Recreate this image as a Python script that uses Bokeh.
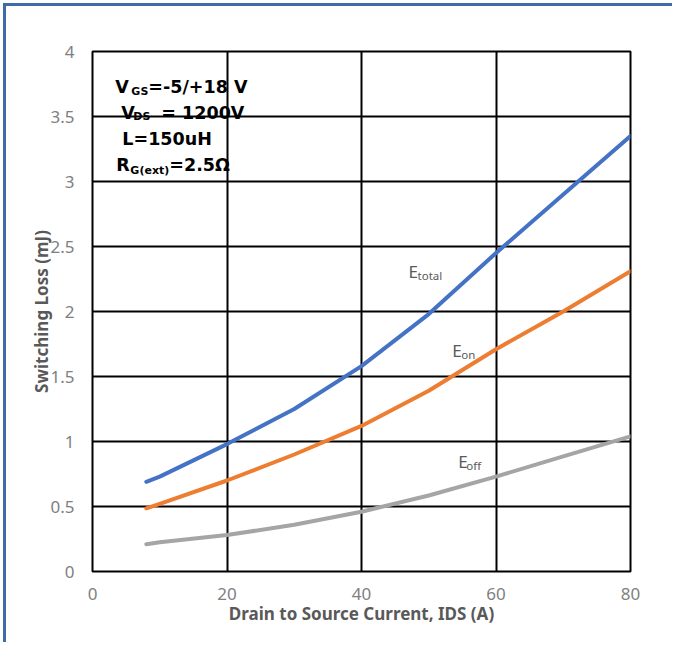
from bokeh.plotting import figure
from bokeh.models import Range1d, FixedTicker
from bokeh.core.properties import value
from bokeh.embed import file_html
from bokeh.resources import INLINE

# Data
ids = [8, 10, 20, 30, 40, 50, 60, 70, 80]
e_total = [0.69, 0.73, 0.98, 1.25, 1.58, 1.98, 2.45, 2.90, 3.35]
e_on = [0.485, 0.52, 0.70, 0.90, 1.12, 1.39, 1.71, 2.00, 2.31]
e_off = [0.21, 0.225, 0.28, 0.36, 0.46, 0.585, 0.73, 0.885, 1.04]

x_ticks = [0, 20, 40, 60, 80]
y_ticks = [0, 0.5, 1, 1.5, 2, 2.5, 3, 3.5, 4]
y_tick_labels = {0: "0", 0.5: "0.5", 1: "1", 1.5: "1.5", 2: "2", 2.5: "2.5", 3: "3", 3.5: "3.5", 4: "4"}

FONT = "Noto Sans"
BOLD_FONT = "DejaVu Sans"
TICK_COLOR = "#808080"
LABEL_COLOR = "#595959"
FRAME_BLUE = "#3D6CA8"

p = figure(
    frame_width=538, frame_height=520,
    min_border_left=86, min_border_right=45, min_border_top=45, min_border_bottom=74,
    x_range=Range1d(0, 80), y_range=Range1d(0, 4),
    output_backend="svg", toolbar_location=None,
    background_fill_color="white", border_fill_color="white",
    styles={"box-shadow": f"-3px -3px 0px 0px {FRAME_BLUE}",
            "margin-left": "6px", "margin-top": "6px"},
)

p.outline_line_color = "black"
p.outline_line_width = 2
p.outline_line_alpha = 1

for ax in (p.xaxis, p.yaxis):
    ax.axis_line_color = None
    ax.major_tick_line_color = None
    ax.minor_tick_line_color = None
    ax.major_label_text_font = FONT
    ax.major_label_text_font_size = "17px"
    ax.major_label_text_color = TICK_COLOR
    ax.axis_label_text_font = FONT
    ax.axis_label_text_font_size = "17px"
    ax.axis_label_text_font_style = "bold"
    ax.axis_label_text_color = LABEL_COLOR

p.xaxis.ticker = FixedTicker(ticks=x_ticks)
p.yaxis.ticker = FixedTicker(ticks=y_ticks)
p.yaxis.major_label_overrides = y_tick_labels
p.xaxis.major_label_standoff = 10
p.yaxis.major_label_standoff = 12
p.xaxis.axis_label = "Drain to Source Current, IDS (A)"
p.yaxis.axis_label = "Switching Loss (mJ)"
p.xaxis.axis_label_standoff = -1
p.yaxis.axis_label_standoff = -6

p.xgrid.ticker = FixedTicker(ticks=x_ticks)
p.ygrid.ticker = FixedTicker(ticks=y_ticks)
for g in (p.xgrid, p.ygrid):
    g.grid_line_color = "black"
    g.grid_line_width = 2
    g.grid_line_alpha = 1

p.line(ids, e_total, line_color="#4472C4", line_width=4, line_cap="round", line_join="round")
p.line(ids, e_on, line_color="#ED7D31", line_width=4, line_cap="round", line_join="round")
p.line(ids, e_off, line_color="#A5A5A5", line_width=4, line_cap="round", line_join="round")

# Series labels with subscripts
def sub_label(x, y, main, sub, dx):
    p.text(x=[x], y=[y], text=[main], text_font=value(FONT), text_font_size="17px",
           text_color=LABEL_COLOR, text_baseline="alphabetic", text_align="left")
    p.text(x=[x], y=[y], text=[sub], text_font=value(FONT), text_font_size="11.5px",
           text_color=LABEL_COLOR, text_baseline="alphabetic", text_align="left",
           x_offset=dx, y_offset=4)

sub_label(47.0, 2.31, "E", "total", 9)
sub_label(53.5, 1.70, "E", "on", 9)
sub_label(54.4, 0.85, "E", "off", 8)

# Condition block
def seg(x, y, t, size, dx, dy=0):
    p.text(x=[x], y=[y], text=[t], text_font=value(BOLD_FONT), text_font_size=size,
           text_font_style="bold", text_color="black", text_baseline="alphabetic",
           text_align="left", x_offset=dx, y_offset=dy)

ax0 = 3.4
seg(ax0, 3.725, "V", "17.5px", 0)
seg(ax0, 3.725, "GS", "11px", 16, 4)
seg(ax0, 3.725, "=-5/+18 V", "17.5px", 33)
seg(ax0, 3.53, "V", "17.5px", 6)
seg(ax0, 3.53, "DS", "11px", 18, 4)
seg(ax0, 3.53, "= 1200V", "17.5px", 46)
seg(ax0, 3.33, "L=150uH", "17.5px", 7)
seg(ax0, 3.125, "R", "17.5px", 1)
seg(ax0, 3.125, "G(ext)", "11px", 15, 5)
seg(ax0, 3.125, "=2.5\u03a9", "17.5px", 54)

open("out.html", "w").write(file_html(p, INLINE))
